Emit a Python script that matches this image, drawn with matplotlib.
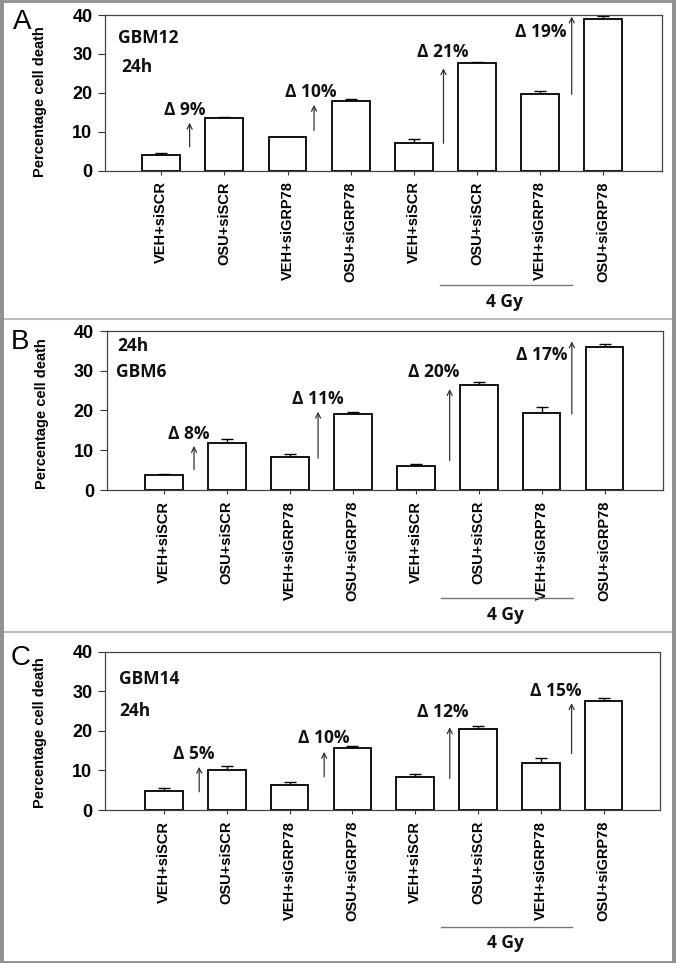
import matplotlib
matplotlib.use('Agg')
import matplotlib.pyplot as plt
import matplotlib.transforms as mtransforms
from matplotlib.lines import Line2D

W, H = 676, 963

# x categories (same for all panels)
labels = ['VEH+siSCR', 'OSU+siSCR', 'VEH+siGRP78', 'OSU+siGRP78',
          'VEH+siSCR', 'OSU+siSCR', 'VEH+siGRP78', 'OSU+siGRP78']
yticks = [0, 10, 20, 30, 40]

# Panel A - GBM12
gbm12_mean = [4.1, 13.4, 8.5, 17.8, 7.1, 27.7, 19.7, 39.0]
gbm12_err = [0.5, 0.4, 0.2, 0.6, 1.1, 0.3, 0.7, 0.7]
gbm12_delta = ['\u0394 9%', '\u0394 10%', '\u0394 21%', '\u0394 19%']
gbm12_arrow_x = [0.45, 2.42, 4.47, 6.50]
gbm12_arrow_from = [6.1, 10.3, 7.0, 19.6]
gbm12_arrow_to = [12.3, 16.9, 26.3, 39.6]
gbm12_label_xy = [(0.37, 15.6), (2.37, 20.2), (4.46, 30.5), (6.01, 35.7)]

# Panel B - GBM6
gbm6_mean = [3.85, 11.7, 8.4, 19.0, 6.0, 26.4, 19.3, 36.1]
gbm6_err = [0.15, 1.2, 0.6, 0.6, 0.6, 0.7, 1.5, 0.6]
gbm6_delta = ['\u0394 8%', '\u0394 11%', '\u0394 20%', '\u0394 17%']
gbm6_arrow_x = [0.48, 2.45, 4.54, 6.48]
gbm6_arrow_from = [5.1, 8.0, 7.4, 19.1]
gbm6_arrow_to = [11.1, 19.7, 25.4, 37.4]
gbm6_label_xy = [(0.40, 14.1), (2.44, 22.8), (4.28, 29.6), (6.00, 34.0)]

# Panel C - GBM14
gbm14_mean = [4.9, 10.0, 6.3, 15.7, 8.3, 20.4, 11.9, 27.5]
gbm14_err = [0.7, 1.0, 0.8, 0.4, 0.7, 0.9, 1.3, 0.7]
gbm14_delta = ['\u0394 5%', '\u0394 10%', '\u0394 12%', '\u0394 15%']
gbm14_arrow_x = [0.56, 2.55, 4.55, 6.49]
gbm14_arrow_from = [4.6, 8.4, 8.0, 14.3]
gbm14_arrow_to = [10.9, 14.7, 20.9, 27.0]
gbm14_label_xy = [(0.48, 14.1), (2.54, 18.1), (4.44, 24.8), (6.24, 30.1)]

TICK_FONT = 'Liberation Sans'
NOTE_FONT = 'Open Sans'


def px_box(l, t, r, b):
    return [l / W, 1 - b / H, (r - l) / W, (b - t) / H]


fig = plt.figure(figsize=(W / 100, H / 100), dpi=100)
fig.patch.set_facecolor('white')

panels = [
    # letter, letter pos, axes box, xlim, means, errs, deltas, arrows, labels, notes, ylabel y, 4Gy line y, 4Gy text y
    ('A', (22, 22), (105, 15, 662, 170.5), (-0.89, 7.93),
     gbm12_mean, gbm12_err, gbm12_delta, gbm12_arrow_x, gbm12_arrow_from, gbm12_arrow_to,
     gbm12_label_xy, [('GBM12', -0.69, 34.0), ('24h', -0.63, 26.7)], 0.44, -0.734, -0.844),
    ('B', (20, 342), (106.5, 331, 662.5, 490), (-0.91, 7.92),
     gbm6_mean, gbm6_err, gbm6_delta, gbm6_arrow_x, gbm6_arrow_from, gbm6_arrow_to,
     gbm6_label_xy, [('24h', -0.74, 36.2), ('GBM6', -0.76, 29.8)], 0.48, -0.677, -0.786),
    ('C', (21, 658), (105, 651.7, 659.5, 810), (-0.94, 7.89),
     gbm14_mean, gbm14_err, gbm14_delta, gbm14_arrow_x, gbm14_arrow_from, gbm14_arrow_to,
     gbm14_label_xy, [('GBM14', -0.72, 33.0), ('24h', -0.72, 25.1)], 0.49, -0.739, -0.838),
]

for (letter, lpos, box, xlim, mean, err, deltas, ax_x, ay0, ay1, lab_xy, notes,
     ylab_y, gy_line, gy_text) in panels:
    ax = fig.add_axes(px_box(*box))
    x = list(range(len(labels)))
    ax.errorbar(x, mean, yerr=[[0] * len(err), err], fmt='none', ecolor='black',
                elinewidth=1.0, capsize=4.5, capthick=1.0, zorder=2)
    ax.bar(x, mean, width=0.6, color='white', edgecolor='black', linewidth=1.3, zorder=3)

    ax.set_xlim(*xlim)
    ax.set_ylim(0, 40)
    ax.set_yticks(yticks)
    ax.set_yticklabels([str(v) for v in yticks], fontsize=13, fontweight='bold',
                       family=TICK_FONT)
    ax.set_xticks(x)
    ax.set_xticklabels(labels, rotation=90, fontsize=10.5, fontweight='bold',
                       family=TICK_FONT)
    ax.tick_params(axis='y', direction='out', length=5, width=0.8, color='#333333', pad=4)
    ax.tick_params(axis='x', direction='out', length=3, width=0.8, color='#333333', pad=5)
    for s in ax.spines.values():
        s.set_color('#444444')
        s.set_linewidth(0.9)

    ax.set_ylabel('Percentage cell death', fontsize=10.5, fontweight='bold', family=TICK_FONT)
    ax.yaxis.set_label_coords(-0.104, ylab_y)

    for txt, tx, ty in notes:
        ax.text(tx, ty, txt, fontsize=12.5, fontweight='bold', family=NOTE_FONT,
                ha='left', va='center', color='#111111')

    for i in range(len(deltas)):
        ax.annotate('', xy=(ax_x[i], ay1[i]), xytext=(ax_x[i], ay0[i]),
                    arrowprops=dict(arrowstyle='->', color='#333333', lw=0.9,
                                    shrinkA=0, shrinkB=0, mutation_scale=9), zorder=4)
        ax.text(lab_xy[i][0], lab_xy[i][1], deltas[i], fontsize=12.5, fontweight='bold',
                family=NOTE_FONT, ha='center', va='center', color='#111111', zorder=5)

    trans = mtransforms.blended_transform_factory(ax.transData, ax.transAxes)
    ax.plot([4.41, 6.50], [gy_line, gy_line], transform=trans, clip_on=False,
            color='#777777', lw=1.0)
    ax.text(5.43, gy_text, '4 Gy', transform=trans, fontsize=12.5, fontweight='bold',
            family=NOTE_FONT, ha='center', va='center', color='#111111')

    fig.text(lpos[0] / W, 1 - lpos[1] / H, letter, fontsize=20, family=TICK_FONT,
             ha='center', va='center')

# gray frame around panels
def hline(y, x0, x1, color, lw):
    fig.add_artist(Line2D([x0 / W, x1 / W], [1 - y / H, 1 - y / H],
                          transform=fig.transFigure, color=color, lw=lw))

def vline(x, y0, y1, color, lw):
    fig.add_artist(Line2D([x / W, x / W], [1 - y0 / H, 1 - y1 / H],
                          transform=fig.transFigure, color=color, lw=lw))

hline(319.5, 0, W, '#bdbdbd', 1.5)
hline(632, 0, W, '#bdbdbd', 1.5)
hline(1.2, 0, W, '#8f8f8f', 2.0)
hline(961.8, 0, W, '#8f8f8f', 2.0)
vline(1.8, 0, H, '#8f8f8f', 2.8)
vline(674.2, 0, H, '#8f8f8f', 2.8)

fig.savefig('out.png', dpi=100)
